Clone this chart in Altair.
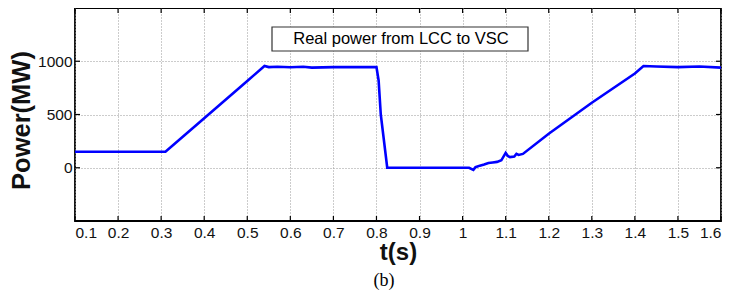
import altair as alt
import pandas as pd

# Data
t_vals = [0.10, 0.31, 0.40, 0.50, 0.54, 0.55, 0.57, 0.60, 0.63, 0.65, 0.70, 0.80,
          0.805, 0.81, 0.825, 0.90, 1.00, 1.015, 1.025, 1.03, 1.04, 1.05, 1.06,
          1.07, 1.08, 1.09, 1.10, 1.105, 1.11, 1.12, 1.125, 1.13, 1.14, 1.20,
          1.30, 1.40, 1.42, 1.45, 1.50, 1.55, 1.60]
p_vals = [150, 150, 465, 815, 955, 945, 948, 944, 948, 940, 945, 945,
          820, 500, 0, 0, 0, 0, -20, 5, 20, 30, 45,
          50, 55, 70, 140, 110, 100, 105, 130, 120, 130, 320,
          610, 885, 955, 950, 945, 950, 940]
x_ticks = [0.1, 0.2, 0.3, 0.4, 0.5, 0.6, 0.7, 0.8, 0.9, 1.0, 1.1, 1.2, 1.3, 1.4, 1.5, 1.6]
y_ticks = [0, 500, 1000]
legend_label = "Real power from LCC to VSC"
caption = "(b)"

W, H = 646, 213
FONT = "Liberation Sans"

df = pd.DataFrame({"t": t_vals, "p": p_vals})
xt = pd.DataFrame({"t": x_ticks})
yt = pd.DataFrame({"p": y_ticks})

xscale = alt.Scale(domain=[0.1, 1.6], nice=False, zero=False)
yscale = alt.Scale(domain=[-500, 1500], nice=False, zero=False)

line = alt.Chart(df).mark_line(color="#0000ff", strokeWidth=2.6).encode(
    x=alt.X("t:Q", scale=xscale,
            axis=alt.Axis(values=x_ticks, title="t(s)",
                          labelExpr="datum.value == 1 ? '1' : format(datum.value, '.1f')")),
    y=alt.Y("p:Q", scale=yscale,
            axis=alt.Axis(values=y_ticks, title="Power(MW)", format="d", titleY=112)),
)

top_ticks = alt.Chart(xt).mark_rule(color="black", strokeWidth=1.2).encode(
    x=alt.X("t:Q", scale=xscale), y=alt.value(0), y2=alt.value(5))
bot_ticks = alt.Chart(xt).mark_rule(color="black", strokeWidth=1.2).encode(
    x=alt.X("t:Q", scale=xscale), y=alt.value(H - 5), y2=alt.value(H))
left_ticks = alt.Chart(yt).mark_rule(color="black", strokeWidth=1.2).encode(
    y=alt.Y("p:Q", scale=yscale), x=alt.value(0), x2=alt.value(5))
right_ticks = alt.Chart(yt).mark_rule(color="black", strokeWidth=1.2).encode(
    y=alt.Y("p:Q", scale=yscale), x=alt.value(W - 5), x2=alt.value(W))

box = alt.Chart(pd.DataFrame({"a": [0]})).mark_rect(
    fill="white", stroke="#333333", strokeWidth=1.2).encode(
    x=alt.value(197), x2=alt.value(453), y=alt.value(19), y2=alt.value(43))
box_text = alt.Chart(pd.DataFrame({"label": [legend_label]})).mark_text(
    font=FONT, fontSize=16.5, color="black", align="center", baseline="middle").encode(
    x=alt.value(326), y=alt.value(31), text="label:N")
cap = alt.Chart(pd.DataFrame({"label": [caption]})).mark_text(
    font="Liberation Serif", fontSize=18, color="black", align="center",
    baseline="middle").encode(x=alt.value(309), y=alt.value(273), text="label:N")

chart = alt.layer(line, top_ticks, bot_ticks, left_ticks, right_ticks,
                  box, box_text, cap).properties(
    width=W, height=H,
    autosize=alt.AutoSizeParams(type="none"),
    padding={"left": 67, "top": 0, "right": 4, "bottom": 70},
).configure_view(stroke="black", strokeWidth=1.8).configure_axis(
    grid=True, gridColor="#999999", gridDash=[1, 2], gridWidth=1,
    domain=False, ticks=False,
    labelFont=FONT, labelFontSize=15.5, labelColor="#111111",
    titleFont=FONT, titleFontWeight="bold", titleColor="#111111",
).configure_axisX(
    labelPadding=4, titleFontSize=24, titlePadding=0,
).configure_axisY(
    labelPadding=3, titleFontSize=25.5, titlePadding=3,
)

chart.save("out.html", embed_options={"renderer": "svg", "actions": False})
